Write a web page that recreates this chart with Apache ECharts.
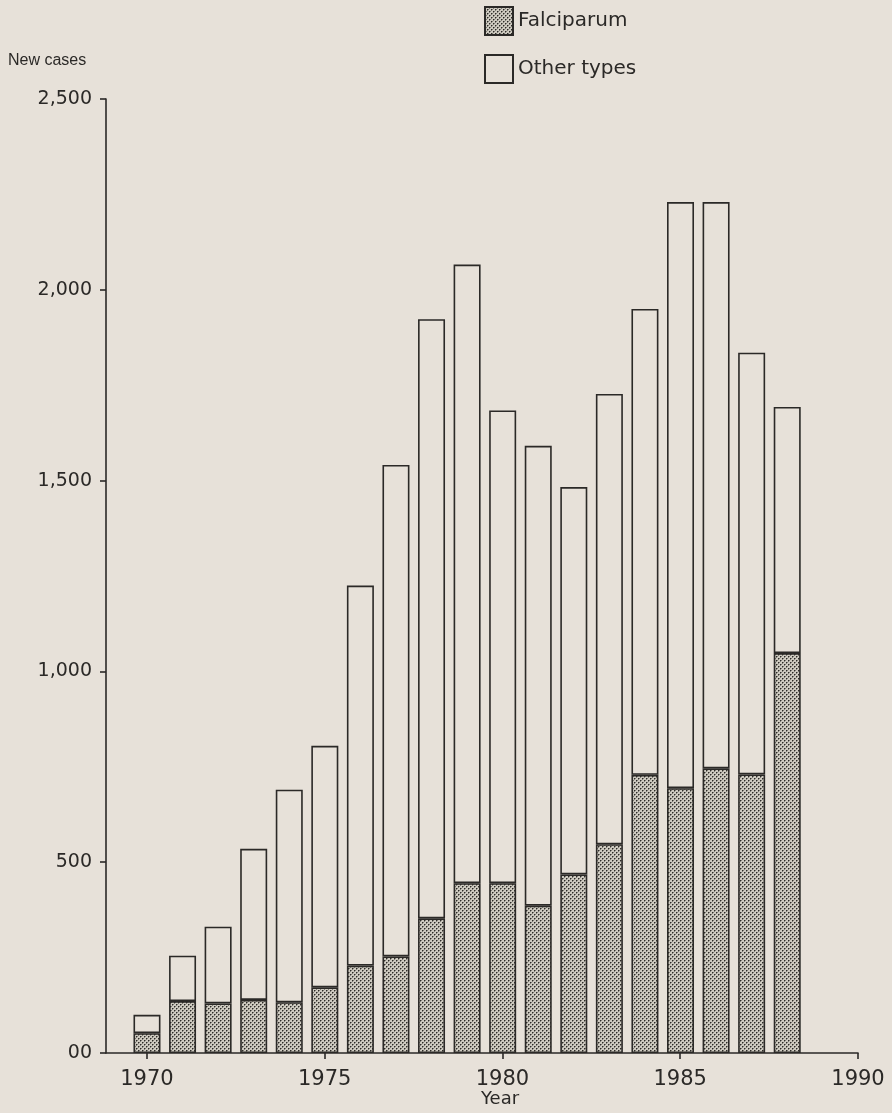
<!DOCTYPE html>
<html>
<head>
<meta charset="utf-8">
<script src="https://cdn.jsdelivr.net/npm/echarts@6/dist/echarts.min.js"></script>
<style>
  html, body { margin: 0; padding: 0; background: #e7e1d9; }
  #chart { width: 892px; height: 1113px; }
</style>
</head>
<body>
<div id="chart"></div>
<script>
// New malaria cases by year, split into falciparum and other types
const years = ['1970', '1971', '1972', '1973', '1974', '1975', '1976', '1977', '1978', '1979',
               '1980', '1981', '1982', '1983', '1984', '1985', '1986', '1987', '1988'];
const falciparum = [52, 136, 130, 139, 133, 172, 229, 253, 353, 445,
                    445, 386, 468, 547, 729, 694, 746, 730, 1048];
const otherTypes = [48, 119, 201, 396, 557, 633, 996, 1288, 1570, 1621,
                    1239, 1205, 1015, 1180, 1221, 1536, 1484, 1105, 645];
const yearTicks = [1970, 1975, 1980, 1985, 1990];
const caseTicks = [0, 500, 1000, 1500, 2000, 2500];
const caseTickLabels = ['00', '500', '1,000', '1,500', '2,000', '2,500'];

// Stippled fill for the falciparum part of each bar
function stipple() {
  const c = document.createElement('canvas');
  c.width = 4; c.height = 4;
  const g = c.getContext('2d');
  g.fillStyle = '#cdc9bf';
  g.fillRect(0, 0, 4, 4);
  g.fillStyle = '#7f7c75';
  g.fillRect(1, 0, 1, 1);
  g.fillRect(0, 1, 1, 1);
  g.fillRect(3, 2, 1, 1);
  g.fillRect(2, 3, 1, 1);
  g.fillStyle = '#2e2c29';
  g.fillRect(0, 0, 1, 1);
  g.fillRect(2, 2, 1, 1);
  return c;
}

const ink = '#2b2927';
const chart = echarts.init(document.getElementById('chart'), null, { renderer: 'canvas' });

chart.setOption({
  backgroundColor: '#e7e1d9',
  animation: false,
  grid: [
    // frame with the year scale and the case scale
    { left: 106, right: 34, top: 99, bottom: 60, containLabel: false },
    // band layout for the yearly bars (1970 to 1988) on the same vertical scale
    { left: 129.2, right: 87, top: 99, bottom: 60, containLabel: false }
  ],
  legend: {
    orient: 'vertical',
    left: 484,
    top: 6,
    icon: 'rect',
    itemWidth: 28,
    itemHeight: 28,
    itemGap: 18,
    padding: 0,
    selectedMode: false,
    textStyle: { fontFamily: 'DejaVu Sans', fontSize: 20, color: ink },
    data: ['Falciparum', 'Other types']
  },
  xAxis: [
    {
      gridIndex: 0,
      type: 'value',
      min: 1968.85,
      max: 1990,
      splitLine: { show: false },
      axisLine: { show: true, lineStyle: { color: ink, width: 1.6 } },
      axisTick: { show: true, length: 6, inside: false, customValues: yearTicks,
                  lineStyle: { color: ink, width: 1.6 } },
      axisLabel: {
        customValues: yearTicks,
        margin: 16,
        fontFamily: 'DejaVu Sans',
        fontSize: 21,
        color: ink,
        formatter: v => String(v)
      }
    },
    {
      gridIndex: 1,
      type: 'category',
      data: years,
      show: false
    }
  ],
  yAxis: [
    {
      gridIndex: 0,
      type: 'value',
      min: 0,
      max: 2500,
      interval: 500,
      splitLine: { show: false },
      axisLine: { show: true, lineStyle: { color: ink, width: 1.6 } },
      axisTick: { show: true, length: 6, lineStyle: { color: ink, width: 1.6 } },
      axisLabel: {
        margin: 14,
        fontFamily: 'DejaVu Sans',
        fontSize: 19,
        color: ink,
        formatter: v => caseTickLabels[caseTicks.indexOf(v)]
      }
    },
    {
      gridIndex: 1,
      type: 'value',
      min: 0,
      max: 2500,
      show: false
    }
  ],
  graphic: [
    { type: 'text', left: 8, top: 53,
      style: { text: 'New cases', fontFamily: 'Liberation Sans', fontSize: 16, fill: ink } },
    { type: 'text', left: 481, top: 1090,
      style: { text: 'Year', fontFamily: 'DejaVu Sans', fontSize: 18, fill: ink } }
  ],
  series: [
    {
      name: 'Falciparum',
      type: 'bar',
      xAxisIndex: 1,
      yAxisIndex: 1,
      stack: 'cases',
      barWidth: 27,
      itemStyle: {
        color: { image: stipple(), repeat: 'repeat' },
        borderColor: ink,
        borderWidth: 1.6
      },
      data: falciparum
    },
    {
      name: 'Other types',
      type: 'bar',
      xAxisIndex: 1,
      yAxisIndex: 1,
      stack: 'cases',
      barWidth: 27,
      itemStyle: {
        color: 'rgba(0,0,0,0)',
        borderColor: ink,
        borderWidth: 1.6
      },
      data: otherTypes
    }
  ]
});
</script>
</body>
</html>
